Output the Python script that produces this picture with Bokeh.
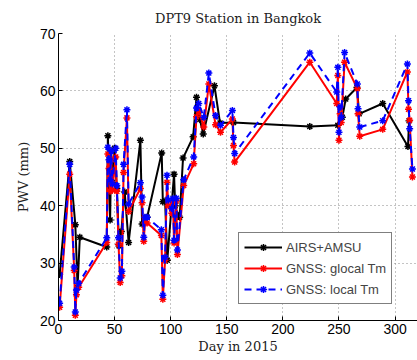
from bokeh.plotting import figure
from bokeh.models import Legend, LegendItem, FixedTicker
from bokeh.embed import file_html
from bokeh.resources import INLINE

# AIRS+AMSU
airs_day = [1, 10, 15, 17, 19, 43, 44, 46, 47, 48, 50, 52, 54, 56, 59, 62.5, 73, 74.5, 77, 79,
            92, 93, 95, 97, 103, 104, 106, 108, 111, 120, 123, 124, 126, 129, 139, 144, 156,
            224, 249, 253, 256, 266, 268, 289, 311.5, 312.5]
airs_pwv = [28.0, 47.7, 36.7, 25.8, 34.5, 32.8, 52.2, 37.5, 49.5, 44.0, 50.0, 43.0, 33.0, 35.5, 42.4, 33.6, 51.4, 36.8, 37.8, 38.0,
            49.2, 40.7, 40.8, 30.5, 45.5, 40.0, 38.5, 38.0, 48.3, 52.0, 58.9, 56.0, 55.0, 52.5, 60.9, 54.4, 54.5,
            53.8, 54.0, 55.4, 58.6, 60.6, 56.0, 57.8, 50.3, 54.8]

# GNSS days (shared by both Tm variants)
gnss_day = [1, 10, 14, 15, 16, 18, 43, 44, 45, 46, 47, 48, 51, 52, 53.5, 55, 56.5, 58, 61, 62.5,
            73, 74.5, 76, 77, 79, 91.7, 93, 95, 96.7, 98, 101, 102, 103, 105, 106, 111.6, 120.5,
            123, 125, 129.5, 134, 140, 144.4, 155, 156, 157, 224, 248, 249, 250, 251, 252, 255,
            266.4, 267, 268.5, 289, 311, 312, 313, 315.5]
glocal_pwv = [22.3, 45.5, 28.7, 20.9, 24.5, 25.8, 33.6, 49.0, 46.5, 42.5, 48.0, 42.7, 48.5, 42.5, 33.3, 26.6, 27.8, 45.8, 55.3, 39.0,
              43.0, 40.5, 33.8, 37.0, 37.0, 34.8, 23.7, 30.5, 44.1, 40.0, 38.7, 40.5, 33.5, 40.8, 31.5, 43.5, 47.3,
              55.5, 56.6, 53.7, 61.2, 54.1, 52.8, 55.1, 50.5, 47.6, 65.0, 57.8, 62.7, 51.4, 56.0, 54.5, 65.0,
              60.4, 56.0, 52.1, 53.3, 63.3, 56.8, 54.9, 45.0]
local_pwv = [23.0, 47.2, 29.3, 21.5, 25.3, 26.5, 34.4, 50.2, 48.0, 44.5, 49.5, 43.8, 50.0, 43.5, 34.4, 27.4, 28.6, 47.2, 56.7, 40.3,
             44.0, 41.5, 34.5, 38.0, 38.0, 35.8, 24.4, 31.0, 45.3, 41.0, 39.5, 41.2, 34.0, 41.3, 32.3, 44.5, 48.5,
             57.0, 57.8, 55.4, 63.1, 55.7, 54.0, 56.6, 51.9, 49.1, 66.6, 59.8, 64.1, 52.8, 57.2, 55.4, 66.7,
             61.2, 56.9, 53.7, 54.8, 64.7, 58.3, 53.4, 46.4]

x_ticks = [0, 50, 100, 150, 200, 250, 300]
y_ticks = [20, 30, 40, 50, 60, 70]

p = figure(width=417, height=360, x_range=(0, 320), y_range=(20, 70),
           output_backend="svg", toolbar_location=None,
           min_border_left=58, min_border_right=0, min_border_top=33, min_border_bottom=40,
           title="DPT9 Station in Bangkok")
p.outline_line_color = None
p.background_fill_color = "white"
p.border_fill_color = "white"

p.title.align = "center"
p.title.text_font = "DejaVu Serif"
p.title.text_font_style = "normal"
p.title.text_font_size = "13px"
p.title.text_color = "#222222"
p.title.standoff = 15

for ax in (p.xaxis[0], p.yaxis[0]):
    ax.major_label_text_font = "Liberation Sans"
    ax.major_label_text_font_size = "14px"
    ax.major_label_text_color = "black"
    ax.axis_label_text_font = "DejaVu Serif"
    ax.axis_label_text_font_style = "normal"
    ax.axis_label_text_font_size = "13px"
    ax.axis_label_text_color = "#222222"
    ax.axis_line_color = "black"
    ax.axis_line_width = 1
    ax.major_tick_in = 4
    ax.major_tick_out = 0
    ax.minor_tick_in = 0
    ax.minor_tick_out = 0
    ax.major_tick_line_color = "black"

p.xaxis.ticker = FixedTicker(ticks=x_ticks)
p.yaxis.ticker = FixedTicker(ticks=y_ticks)
p.xaxis.axis_label = "Day in 2015"
p.yaxis.axis_label = "PWV (mm)"
p.xaxis.major_label_standoff = 3
p.yaxis.major_label_standoff = 3
p.xaxis.axis_label_standoff = 2
p.yaxis.axis_label_standoff = 6

p.xgrid.grid_line_color = "#888888"
p.ygrid.grid_line_color = "#888888"
p.xgrid.grid_line_dash = "1 3"
p.ygrid.grid_line_dash = "1 3"
p.xgrid.grid_line_width = 1
p.ygrid.grid_line_width = 1

l1 = p.line(airs_day, airs_pwv, line_color="black", line_width=2)
s1 = p.scatter(airs_day, airs_pwv, marker="asterisk", size=7, line_color="black", line_width=1.5)
l2 = p.line(gnss_day, glocal_pwv, line_color="red", line_width=2)
s2 = p.scatter(gnss_day, glocal_pwv, marker="asterisk", size=7, line_color="red", line_width=1.5)
l3 = p.line(gnss_day, local_pwv, line_color="blue", line_width=2, line_dash="7 5")
s3 = p.scatter(gnss_day, local_pwv, marker="asterisk", size=7, line_color="blue", line_width=1.5)

legend = Legend(items=[
    LegendItem(label="AIRS+AMSU", renderers=[l1, s1]),
    LegendItem(label="GNSS: glocal Tm", renderers=[l2, s2]),
    LegendItem(label="GNSS: local Tm", renderers=[l3, s3]),
], location=(180, 16))
legend.label_text_font = "Liberation Sans"
legend.label_text_font_size = "13px"
legend.label_standoff = 4
legend.glyph_width = 38
legend.glyph_height = 18
legend.label_height = 18
legend.spacing = 3
legend.padding = 5
legend.margin = 0
legend.border_line_color = "black"
legend.border_line_width = 1
legend.background_fill_alpha = 1
p.add_layout(legend, "center")

open("out.html", "w").write(file_html(p, INLINE))
